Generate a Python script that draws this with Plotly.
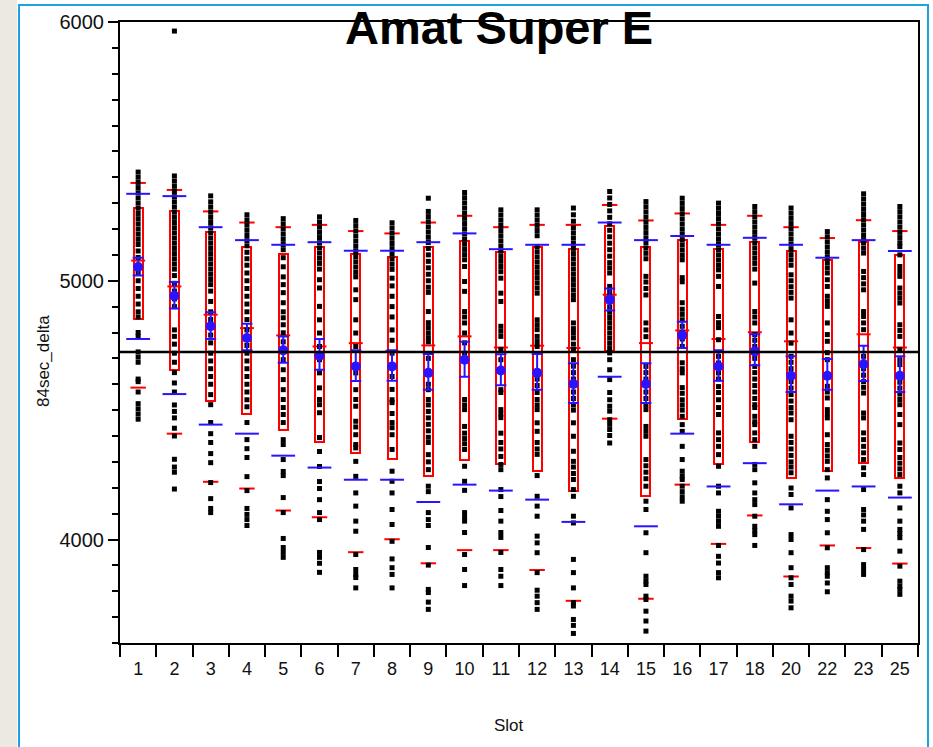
import plotly.graph_objects as go

# ---------------- data ----------------
CATS = ["1", "2", "3", "4", "5", "6", "7", "8", "9", "10", "11",
        "12", "13", "14", "15", "16", "17", "18", "20", "22", "23", "25"]

BOX_HIGH = [5283, 5268, 5190, 5131, 5105, 5131, 5104, 5090, 5132, 5155, 5113,
            5131, 5124, 5210, 5132, 5157, 5124, 5148, 5115, 5081, 5149, 5098]
MEDIAN = [5078, 4978, 4869, 4817, 4789, 4746, 4759, 4727, 4750, 4785, 4742,
          4749, 4740, 4946, 4759, 4808, 4775, 4801, 4766, 4725, 4793, 4742]
BOX_LOW = [4852, 4656, 4537, 4485, 4425, 4375, 4334, 4313, 4247, 4306, 4290,
           4265, 4189, 4727, 4170, 4467, 4290, 4375, 4237, 4265, 4295, 4237]
WHISK_HIGH = [5378, 5351, 5268, 5225, 5207, 5216, 5192, 5183, 5225, 5251, 5207,
              5216, 5216, 5293, 5233, 5260, 5216, 5251, 5207, 5165, 5234, 5192]
WHISK_LOW = [4587, 4409, 4223, 4197, 4112, 4086, 3951, 4001, 3908, 3959, 3959,
             3882, 3763, 4467, 3771, 4212, 3983, 4093, 3857, 3977, 3967, 3907]
SD_HIGH = [5336, 5327, 5207, 5157, 5139, 5149, 5116, 5116, 5149, 5183, 5122,
           5139, 5139, 5225, 5157, 5173, 5139, 5166, 5139, 5089, 5157, 5115]
SD_LOW = [4775, 4562, 4444, 4409, 4324, 4278, 4231, 4231, 4145, 4212, 4189,
          4154, 4068, 4629, 4051, 4409, 4205, 4295, 4136, 4189, 4205, 4162]
MEAN = [5053, 4942, 4824, 4779, 4731, 4710, 4669, 4669, 4644, 4695, 4653,
        4644, 4601, 4927, 4601, 4789, 4669, 4727, 4633, 4633, 4677, 4633]
ERR_HIGH = [5089, 4995, 4878, 4834, 4785, 4775, 4731, 4731, 4717, 4764, 4716,
            4717, 4681, 4970, 4681, 4842, 4731, 4793, 4708, 4698, 4749, 4708]
ERR_LOW = [5020, 4893, 4775, 4731, 4683, 4656, 4613, 4614, 4579, 4629, 4596,
           4579, 4528, 4885, 4528, 4740, 4614, 4673, 4570, 4579, 4613, 4570]
GRAND_MEAN = 4725

S1 = [5420, 5400, 5380, 5360, 5340, 5320, 5300, 5280, 5260, 5240, 5220, 5200, 5180,
      5160, 5140, 5115, 5090, 5060, 5030, 5000, 4970, 4940, 4910, 4880, 4860, 4800,
      4785, 4725, 4705, 4685, 4620, 4610, 4570, 4525, 4505, 4485, 4465]
S2 = [5965, 5405, 5385, 5365, 5345, 5325, 5305, 5285, 5265, 5245, 5225, 5205, 5185,
      5165, 5145, 5125, 5105, 5085, 5065, 5045, 5020, 4990, 4960, 4930, 4900, 4810,
      4785, 4755, 4720, 4685, 4645, 4605, 4570, 4520, 4495, 4470, 4430, 4400, 4310,
      4280, 4260, 4195]
S3 = [5328, 5305, 5285, 5265, 5245, 5225, 5205, 5185, 5165, 5145, 5125, 5105, 5085,
      5065, 5045, 5025, 5005, 4985, 4960, 4920, 4880, 4850, 4820, 4790, 4760, 4720,
      4690, 4660, 4630, 4600, 4560, 4521, 4452, 4409, 4375, 4332, 4297, 4220, 4158,
      4120, 4104]
S4 = [5255, 5235, 5215, 5195, 5175, 5155, 5135, 5110, 5085, 5060, 5030, 5000, 4970,
      4940, 4910, 4880, 4850, 4810, 4780, 4750, 4720, 4690, 4660, 4630, 4600, 4570,
      4540, 4513, 4452, 4386, 4351, 4317, 4243, 4189, 4120, 4097, 4077, 4054]
S5 = [5240, 5220, 5200, 5180, 5160, 5140, 5120, 5089, 5054, 5015, 4985, 4954, 4915,
      4880, 4857, 4830, 4799, 4764, 4726, 4695, 4656, 4618, 4579, 4541, 4510, 4483,
      4452, 4386, 4367, 4309, 4263, 4247, 4162, 4104, 4004, 3969, 3950, 3931]
S6 = [5247, 5227, 5207, 5187, 5167, 5147, 5127, 5107, 5087, 5067, 5045, 5004, 4972,
      4901, 4849, 4798, 4746, 4695, 4644, 4586, 4541, 4521, 4490, 4394, 4340, 4282,
      4224, 4197, 4154, 4104, 4077, 3950, 3931, 3908, 3873]
S7 = [5233, 5213, 5193, 5173, 5153, 5133, 5113, 5093, 5073, 5053, 5033, 5015, 4965,
      4927, 4849, 4798, 4746, 4669, 4644, 4579, 4541, 4515, 4457, 4435, 4405, 4367,
      4354, 4302, 4244, 4180, 4129, 4071, 4032, 3942, 3884, 3865, 3853, 3813]
S8 = [5224, 5204, 5184, 5164, 5144, 5124, 5104, 5084, 5064, 5044, 5010, 4980, 4940,
      4900, 4860, 4810, 4770, 4720, 4670, 4630, 4580, 4540, 4529, 4487, 4452, 4432,
      4405, 4348, 4264, 4225, 4180, 4116, 4058, 3993, 3925, 3891, 3865, 3813]
S9 = [5319, 5268, 5248, 5228, 5208, 5188, 5168, 5148, 5125, 5100, 5075, 5050, 5025,
      5000, 4975, 4955, 4881, 4838, 4819, 4799, 4780, 4764, 4700, 4650, 4600, 4579,
      4541, 4520, 4495, 4470, 4445, 4420, 4395, 4375, 4328, 4300, 4270, 4206, 4185,
      4104, 4077, 4054, 3969, 3901, 3807, 3795, 3758, 3730]
S10 = [5341, 5321, 5301, 5281, 5261, 5241, 5221, 5201, 5181, 5161, 5141, 5121, 5101,
       5081, 5055, 4997, 4959, 4881, 4860, 4837, 4798, 4760, 4720, 4541, 4520, 4502,
       4437, 4411, 4390, 4370, 4348, 4283, 4225, 4190, 4104, 4085, 4071, 4027, 3942,
       3884, 3822]
S11 = [5274, 5254, 5234, 5214, 5194, 5174, 5154, 5134, 5114, 5094, 5075, 5055, 5035,
       5010, 4952, 4920, 4824, 4805, 4785, 4734, 4695, 4579, 4568, 4502, 4485, 4471,
       4411, 4375, 4350, 4321, 4290, 4270, 4193, 4166, 4112, 4071, 4027, 4008, 3950,
       3884, 3858, 3822]
S12 = [5274, 5254, 5234, 5214, 5194, 5174, 5132, 5112, 5092, 5072, 5052, 5032, 5012,
       4992, 4972, 4952, 4849, 4830, 4811, 4785, 4765, 4746, 4644, 4620, 4595, 4568,
       4541, 4520, 4502, 4451, 4418, 4375, 4350, 4329, 4247, 4167, 4129, 4090, 4013,
       3987, 3949, 3872, 3804, 3781, 3756, 3730]
S13 = [5281, 5255, 5230, 5205, 5185, 5165, 5145, 5125, 5105, 5085, 5065, 5045, 5025,
       5005, 4985, 4965, 4945, 4927, 4837, 4815, 4798, 4779, 4755, 4734, 4695, 4670,
       4645, 4620, 4595, 4570, 4545, 4520, 4500, 4451, 4399, 4341, 4302, 4280, 4255,
       4232, 4193, 4167, 4090, 4064, 3923, 3872, 3813, 3756, 3743, 3691, 3668, 3637]
S14 = [5345, 5320, 5295, 5270, 5245, 5220, 5195, 5170, 5145, 5120, 5095, 5070, 5050,
       5030, 4978, 4958, 4938, 4918, 4898, 4878, 4858, 4838, 4818, 4798, 4778, 4758,
       4738, 4721, 4695, 4656, 4618, 4568, 4540, 4515, 4496, 4463, 4445, 4425, 4402,
       4373]
S15 = [5306, 5286, 5266, 5246, 5226, 5206, 5186, 5166, 5146, 5126, 5106, 5085, 5017,
       4995, 4970, 4945, 4837, 4810, 4784, 4669, 4645, 4620, 4595, 4570, 4545, 4520,
       4502, 4437, 4418, 4399, 4309, 4285, 4260, 4235, 4206, 4148, 4116, 4026, 3949,
       3858, 3840, 3826, 3781, 3768, 3723, 3685, 3646]
S16 = [5319, 5299, 5279, 5259, 5239, 5219, 5199, 5179, 5159, 5139, 5119, 5099, 5081,
       5012, 4996, 4915, 4890, 4870, 4849, 4824, 4800, 4775, 4746, 4683, 4660, 4644,
       4587, 4565, 4540, 4520, 4500, 4476, 4444, 4418, 4360, 4309, 4264, 4245, 4232,
       4206, 4185, 4165, 4148]
S17 = [5300, 5280, 5260, 5240, 5220, 5200, 5180, 5160, 5140, 5120, 5100, 5080, 5060,
       5042, 5017, 4978, 4862, 4838, 4819, 4772, 4708, 4682, 4644, 4620, 4591, 4568,
       4540, 4510, 4483, 4412, 4386, 4360, 4328, 4283, 4206, 4180, 4109, 4090, 4070,
       4051, 3977, 3935, 3909, 3872, 3852]
S18 = [5287, 5267, 5247, 5227, 5207, 5187, 5167, 5147, 5127, 5107, 5087, 5067, 5045,
       4991, 4881, 4860, 4837, 4792, 4770, 4746, 4720, 4700, 4669, 4645, 4620, 4595,
       4570, 4545, 4521, 4510, 4476, 4455, 4444, 4412, 4386, 4360, 4290, 4270, 4219,
       4180, 4154, 4135, 4090, 4051, 4035, 4019, 3977]
S20 = [5281, 5261, 5241, 5221, 5201, 5181, 5161, 5141, 5121, 5101, 5081, 5060, 5023,
       5000, 4977, 4955, 4933, 4849, 4798, 4759, 4708, 4685, 4660, 4635, 4610, 4585,
       4560, 4535, 4510, 4489, 4463, 4399, 4375, 4350, 4325, 4300, 4280, 4258, 4199,
       4174, 4122, 4019, 4000, 3949, 3891, 3852, 3826, 3781, 3762, 3736]
S22 = [5190, 5170, 5150, 5130, 5110, 5090, 5070, 5050, 5030, 5004, 4978, 4940, 4920,
       4901, 4837, 4792, 4766, 4722, 4695, 4592, 4570, 4547, 4502, 4485, 4470, 4405,
       4367, 4345, 4323, 4302, 4270, 4238, 4154, 4109, 4077, 4026, 3968, 3891, 3872,
       3858, 3832, 3798]
S23 = [5336, 5316, 5296, 5276, 5256, 5236, 5216, 5196, 5176, 5158, 5146, 5126, 5107,
       5036, 5012, 4988, 4965, 4881, 4862, 4837, 4811, 4708, 4685, 4660, 4635, 4610,
       4588, 4566, 4489, 4470, 4412, 4386, 4360, 4335, 4309, 4277, 4251, 4193, 4116,
       4095, 4071, 4039, 3961, 3903, 3884, 3865]
S25 = [5287, 5267, 5247, 5227, 5207, 5187, 5167, 5147, 5132, 5100, 5055, 5036, 5017,
       4972, 4952, 4933, 4914, 4830, 4808, 4785, 4734, 4695, 4676, 4631, 4608, 4585,
       4562, 4541, 4521, 4483, 4444, 4373, 4348, 4317, 4295, 4273, 4251, 4206, 4180,
       4122, 4071, 4039, 4023, 4007, 3955, 3897, 3839, 3820, 3807, 3788]

POINTS = [S1, S2, S3, S4, S5, S6, S7, S8, S9, S10, S11, S12, S13, S14, S15,
          S16, S17, S18, S20, S22, S23, S25]

TITLE = "Amat Super E"
X_TITLE = "Slot"
Y_TITLE = "84sec_delta"

# ---------------- styling / layout ----------------
W, H = 933, 747
ML, MR, MT, MB = 120, 15, 22, 104
PW, PH = W - ML - MR, H - MT - MB


def fx(px):
    return (px - ML) / PW


def fy(py):
    return (H - MB - py) / PH


RED = "#FF0000"
BLUE = "#2814FF"
FONT = "Liberation Sans, Arial, sans-serif"
TXT = "#111111"

fig = go.Figure()

# boxes (quantile boxes)
fig.add_trace(go.Bar(
    x=CATS, y=[h - l for h, l in zip(BOX_HIGH, BOX_LOW)], base=BOX_LOW,
    width=0.25, marker=dict(color="rgba(0,0,0,0)", line=dict(color=RED, width=2)),
    hoverinfo="skip"))

# medians
fig.add_trace(go.Scatter(
    x=CATS, y=MEDIAN, mode="markers",
    marker=dict(symbol="line-ew", size=10, line=dict(color=RED, width=2)),
    hoverinfo="skip"))

# whisker ends
for arr in (WHISK_HIGH, WHISK_LOW):
    fig.add_trace(go.Scatter(
        x=CATS, y=arr, mode="markers",
        marker=dict(symbol="line-ew", size=11, line=dict(color=RED, width=2)),
        hoverinfo="skip"))

# raw points
px_list, py_list = [], []
for c, pts in zip(CATS, POINTS):
    px_list += [c] * len(pts)
    py_list += pts
fig.add_trace(go.Scatter(
    x=px_list, y=py_list, mode="markers",
    marker=dict(symbol="square", size=5, color="black", line=dict(width=0)),
    hoverinfo="skip"))

# std dev lines
for arr in (SD_HIGH, SD_LOW):
    fig.add_trace(go.Scatter(
        x=CATS, y=arr, mode="markers",
        marker=dict(symbol="line-ew", size=17, line=dict(color=BLUE, width=2)),
        hoverinfo="skip"))

# mean with error bars
fig.add_trace(go.Scatter(
    x=CATS, y=MEAN, mode="markers",
    marker=dict(symbol="circle", size=10, color=BLUE, line=dict(width=0)),
    error_y=dict(type="data", symmetric=False,
                 array=[h - m for h, m in zip(ERR_HIGH, MEAN)],
                 arrayminus=[m - l for m, l in zip(MEAN, ERR_LOW)],
                 color=BLUE, thickness=2, width=5.5),
    hoverinfo="skip"))

shapes = [
    dict(type="rect", xref="paper", yref="paper", x0=fx(0), x1=fx(17), y0=fy(760), y1=fy(-5),
         fillcolor="#ECEAE0", line=dict(width=0), layer="below"),
    dict(type="rect", xref="paper", yref="paper", x0=fx(19), x1=fx(928), y0=fy(770), y1=fy(5),
         fillcolor="rgba(0,0,0,0)", line=dict(color="#1AA3E0", width=2), layer="below"),
    dict(type="line", xref="paper", yref="y", x0=0, x1=1, y0=GRAND_MEAN, y1=GRAND_MEAN,
         line=dict(color="black", width=2.5), layer="above"),
]

annotations = [
    dict(text="<b>" + TITLE + "</b>", xref="paper", yref="paper", x=fx(499), y=fy(27),
         xanchor="center", yanchor="middle", showarrow=False,
         font=dict(family=FONT, size=47, color="black")),
    dict(text=X_TITLE, xref="paper", yref="paper", x=fx(509), y=fy(725),
         xanchor="center", yanchor="middle", showarrow=False,
         font=dict(family=FONT, size=17, color=TXT)),
    dict(text=Y_TITLE, xref="paper", yref="paper", x=fx(43), y=fy(361),
         xanchor="center", yanchor="middle", showarrow=False, textangle=-90,
         font=dict(family=FONT, size=17, color=TXT)),
]

fig.update_layout(
    width=W, height=H, autosize=False,
    margin=dict(l=ML, r=MR, t=MT, b=MB, pad=0),
    paper_bgcolor="white", plot_bgcolor="white",
    showlegend=False, bargap=0,
    shapes=shapes, annotations=annotations,
    xaxis=dict(type="category", categoryorder="array", categoryarray=CATS,
               range=[-0.5, len(CATS) - 0.5], tickson="boundaries",
               ticks="outside", ticklen=12, tickwidth=2, tickcolor="black",
               ticklabelstandoff=8,
               showline=True, linecolor="black", linewidth=2, mirror=True,
               showgrid=False, zeroline=False,
               tickfont=dict(family=FONT, size=18, color=TXT)),
    yaxis=dict(range=[3600, 6000], tickvals=[4000, 5000, 6000],
               ticks="outside", ticklen=10, tickwidth=2, tickcolor="black",
               minor=dict(dtick=100, tick0=0, ticks="outside", ticklen=6,
                          tickwidth=2, tickcolor="black", showgrid=False),
               showline=True, linecolor="black", linewidth=2, mirror=True,
               showgrid=False, zeroline=False,
               tickfont=dict(family=FONT, size=20, color=TXT)),
)

fig.write_html("out.html")
